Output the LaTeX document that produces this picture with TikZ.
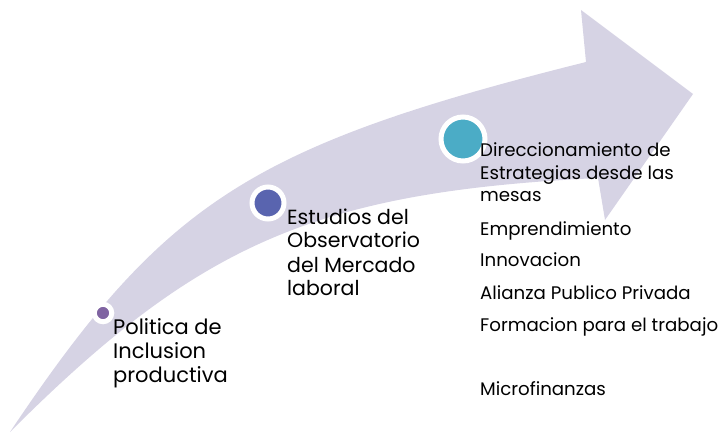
\documentclass[tikz,border=0pt]{standalone}
\usepackage{fontspec}
\setmainfont{Poppins}
\definecolor{arrowfill}{HTML}{D6D3E4}
\definecolor{cpurple}{HTML}{8064A2}
\definecolor{cblue}{HTML}{5964AF}
\definecolor{cteal}{HTML}{4BACC6}
\tikzset{
  dot/.style={circle, draw=white, line width=5pt, inner sep=0pt},
  lbl/.style={anchor=base west, inner sep=0pt, align=left, text=black},
}
\begin{document}
\begin{tikzpicture}[x=1pt,y=-1pt]
\useasboundingbox (0,0) rectangle (724,433);
\fill[arrowfill] (10,432) .. controls (164,202) and (250,146) .. (586,62)
  -- (581,10) -- (693,94) -- (605,220) -- (598,178)
  .. controls (316,192) and (199,243) .. (10,432) -- cycle;
\node[dot, fill=cpurple, minimum size=17.5pt] (c1) at (103,313) {};
\node[dot, fill=cblue, minimum size=32pt] (c2) at (268,203) {};
\node[dot, fill=cteal, minimum size=44pt] (c3) at (463,139) {};
\node[lbl, font={\fontsize{21}{24}\selectfont}] (t1) at (113,382) {Politica de\\Inclusion\\productiva};
\node[lbl, font={\fontsize{20.5}{24}\selectfont}] (t2) at (287,296) {Estudios del\\Observatorio\\del Mercado\\laboral};
\node[lbl, font={\fontsize{18.2}{22.5}\selectfont}] (t3) at (480,202) {Direccionamiento de\\Estrategias desde las\\mesas};
\node[lbl, font={\fontsize{18.2}{20}\selectfont}] (t4) at (480,236) {Emprendimiento};
\node[lbl, font={\fontsize{18.2}{20}\selectfont}] (t5) at (480,267) {Innovacion};
\node[lbl, font={\fontsize{18.2}{20}\selectfont}] (t6) at (480,299) {Alianza Publico Privada};
\node[lbl, font={\fontsize{18.2}{20}\selectfont}] (t7) at (480,331) {Formacion para el trabajo};
\node[lbl, font={\fontsize{18.2}{20}\selectfont}] (t8) at (480,395) {Microfinanzas};
\end{tikzpicture}
\end{document}
